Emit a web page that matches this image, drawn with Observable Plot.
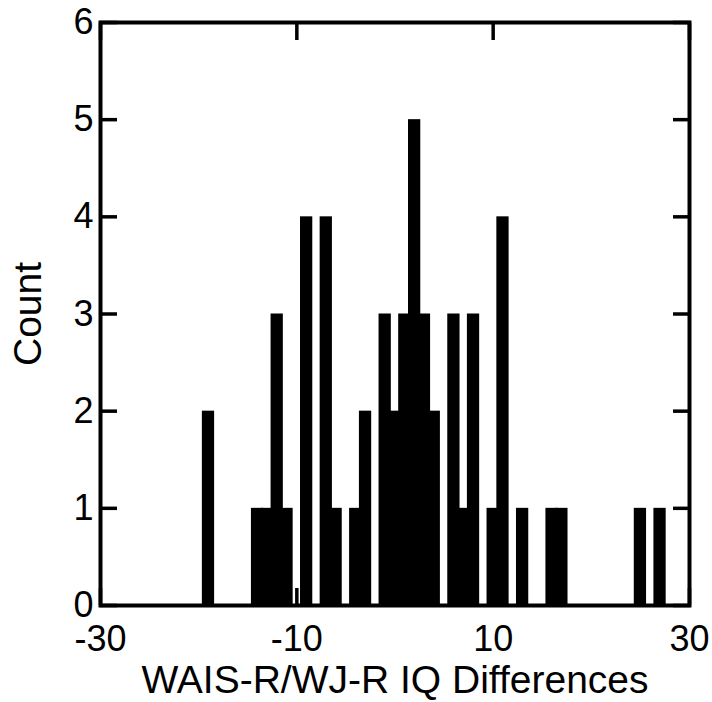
<!DOCTYPE html>
<html>
<head>
<meta charset="utf-8">
<script src="https://cdn.jsdelivr.net/npm/d3@7"></script>
<script src="https://cdn.jsdelivr.net/npm/@observablehq/plot@0.6"></script>
<style>
  html, body { margin: 0; padding: 0; background: white; }
</style>
</head>
<body>
<div id="chart"></div>
<script>
// IQ difference values (integer bins) and their counts
const diffs  = [-19, -14, -13, -12, -11, -9, -7, -6, -4, -3, -1, 0, 1, 2, 3, 4, 6, 7, 8, 10, 11, 13, 16, 17, 25, 27];
const counts = [  2,   1,   1,   3,   1,  4,  4,  1,  1,  2,  3, 2, 3, 5, 3, 2, 3, 1, 3,  1,  4,  1,  1,  1,  1,  1];
const xTicks = [-30, -10, 10, 30];
const yTicks = [0, 1, 2, 3, 4, 5, 6];
const xLabel = "WAIS-R/WJ-R IQ Differences";
const yLabel = "Count";
const halfWidth = 0.625;

const data = diffs.map((d, i) => ({value: d, count: counts[i]}));
const fmt = d => String(d);

const chart = Plot.plot({
  width: 712,
  height: 702,
  marginLeft: 100,
  marginRight: 23,
  marginTop: 22,
  marginBottom: 97,
  x: {domain: [-30, 30]},
  y: {domain: [0, 6]},
  style: {fontFamily: "'Liberation Sans', Arial, sans-serif", background: "white", color: "black"},
  marks: [
    // inward tick marks on all four sides
    Plot.axisX(xTicks, {anchor: "bottom", tickSize: -17, strokeWidth: 3.5, tickFormat: () => "", label: null}),
    Plot.axisX(xTicks, {anchor: "top", tickSize: -17, strokeWidth: 3.5, tickFormat: () => "", label: null}),
    Plot.axisY(yTicks, {anchor: "left", tickSize: -17, strokeWidth: 3.5, tickFormat: () => "", label: null}),
    Plot.axisY(yTicks, {anchor: "right", tickSize: -17, strokeWidth: 3.5, tickFormat: () => "", label: null}),
    // bars
    Plot.rectY(data, {x1: d => d.value - halfWidth, x2: d => d.value + halfWidth, y: "count", fill: "black"}),
    // frame
    Plot.frame({stroke: "black", strokeWidth: 4}),
    // tick labels
    Plot.axisX(xTicks, {anchor: "bottom", tickSize: 0, tickPadding: 20, fontSize: 36, tickFormat: fmt, label: null}),
    Plot.axisY(yTicks, {anchor: "left", tickSize: 0, tickPadding: 7, fontSize: 36, tickFormat: fmt, label: null}),
    // axis titles
    Plot.text([xLabel], {frameAnchor: "bottom", dy: 75, fontSize: 39, lineAnchor: "middle", textAnchor: "middle", fill: "black"}),
    Plot.text([yLabel], {frameAnchor: "left", dx: -71.5, rotate: -90, fontSize: 39, lineAnchor: "middle", textAnchor: "middle", fill: "black"})
  ]
});

document.getElementById("chart").appendChild(chart);
</script>
</body>
</html>
